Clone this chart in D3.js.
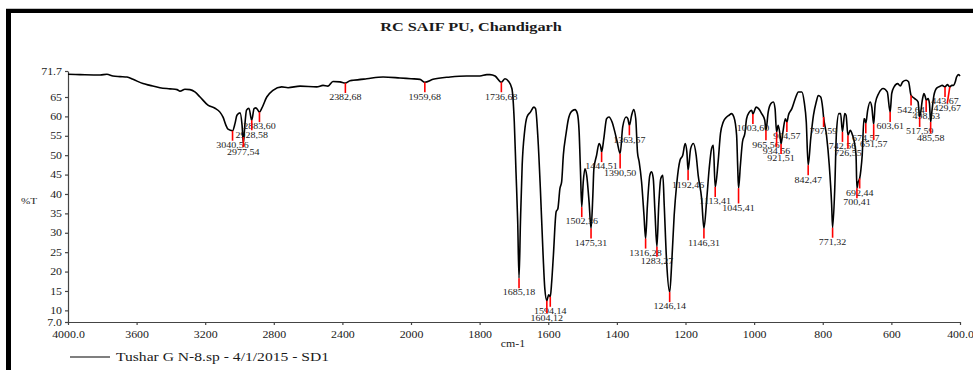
<!DOCTYPE html>
<html><head><meta charset="utf-8">
<script src="https://cdn.jsdelivr.net/npm/d3@7"></script>
<style>
body{margin:0;background:#fff}
svg{display:block}
text{font-family:"Liberation Serif","Times New Roman",serif;fill:#1a1a1a}
</style>
</head><body>
<svg id="c" width="973" height="370"></svg>
<script>
const waveNumbers = [4000,3930,3813,3773,3738,3697,3656,3621,3563,3522,3464,3405,3364,3347,3318,3289,3260,3230,3184,3143,3114,3096,3079,3067,3040.6,3026,3015,2997,2985,2977.5,2969,2959,2945,2928.6,2915,2904,2883.6,2869,2841,2805,2754,2717,2647,2550,2513,2484,2455,2414,2382.7,2356,2338,2258,2163,2064,2000,1974,1959.7,1936,1886,1838,1799,1779,1770,1755,1736.7,1726,1716,1706,1699,1694,1689,1685.2,1681,1676,1669,1662,1652,1642,1637,1630,1623,1615,1610,1604.1,1599,1594.1,1590,1585,1577,1572,1566,1561,1556,1548,1542,1532,1522,1515,1510,1506,1502.4,1498,1493,1488,1481,1475.3,1470,1467,1459,1452,1447,1444.5,1438,1430,1423,1414,1406,1399,1390.5,1383,1373,1368,1363.6,1357,1351,1345,1340,1335,1328,1321,1316.3,1311,1304,1299,1294,1289,1283.3,1278,1272,1266,1262,1255,1246.1,1240,1233,1226,1216,1208,1201,1196,1192.5,1185,1177,1169,1163,1153,1146.3,1138,1131,1124,1119,1113.4,1105,1098,1090,1080,1073,1066,1059,1051,1048,1045.4,1040,1034,1027,1022,1014,1007,1003.6,994,987,978,969,965.6,959,951,944,939,934.6,930,925,921.5,916,909,904.6,900,890,880,871,861,854,848,842.5,835,827,819,813,806,800,797.6,789,781,774,771.3,765,760,753,748,742.6,736,732,726.6,720,713,708,703,700.4,697,692.4,689,685,680,678,674.6,669,662,657,651.6,647,637,624,612,603.6,599,592,582,574,567,557,550,542.6,532,522,521,517.6,509,505,501,498.6,493,489,485.6,481,476,468,458,452,443.7,437,429.7,424,419,414,410,404,400];
const transmittance = [70.85,70.77,70.67,70.85,70.41,70.26,70.15,69.56,68.45,68.0,67.4,67.1,66.9,66.5,67.0,66.9,66.3,65.0,62.9,62.1,61.1,59.8,57.7,56.7,56.3,58.2,60.3,60.9,57.7,53.1,57.7,61.6,62.1,59.0,62.0,62.2,61.1,62.2,65.0,66.7,67.6,67.4,67.8,67.6,68.0,67.8,69.0,68.9,68.6,69.2,69.3,69.7,70.15,69.9,69.7,69.55,68.8,69.55,70.15,70.4,70.4,70.77,70.77,70.4,68.8,69.7,69.05,67.2,58.6,45.7,32.8,18.3,32.8,47.4,56.0,59.85,61.1,62.4,62.0,54.3,41.4,24.2,15.6,12.5,14.0,13.5,17.3,24.2,35.4,36.2,41.4,43.1,50.0,55.6,59.0,61.3,61.75,60.7,56.0,45.7,36.6,43.1,46.5,44.8,37.9,31.1,39.7,46.5,50.0,53.0,52.1,50.8,54.3,59.4,59.85,58.55,56.0,53.4,50.4,57.3,59.85,59.4,57.7,60.3,61.75,59.4,50.8,48.25,43.1,34.5,28.5,37.1,44.8,45.7,44.0,35.4,26.4,37.1,44.0,44.8,37.1,22.5,14.7,22.5,34.5,42.25,48.7,50.0,53.0,50.8,46.1,51.7,53.0,50.0,44.8,38.8,31.1,38.8,46.5,51.7,52.55,41.8,48.2,55.6,58.55,59.85,60.3,60.7,59.85,55.1,47.4,41.5,47.4,53.4,55.6,59.4,61.1,61.6,60.6,62.4,62.0,60.7,59.0,56.4,61.1,63.3,63.7,62.0,56.0,57.7,55.6,52.9,56.0,59.4,58.55,60.3,62.0,64.6,66.3,66.3,63.7,58.55,47.4,54.3,60.3,63.7,65.4,65.0,62.0,59.85,55.1,47.4,37.1,31.3,41.4,56.0,60.7,60.7,56.0,60.7,60.3,55.1,56.4,55.1,53.4,50.0,41.5,43.0,44.0,46.1,50.0,59.4,59.4,58.2,61.6,63.7,62.4,58.0,63.3,65.9,67.2,66.3,61.1,65.9,67.6,68.45,67.85,68.9,69.3,68.9,65.4,64.6,63.7,62.8,59.85,64.6,65.9,65.0,64.15,64.6,63.3,58.55,62.0,65.4,67.3,67.75,68.0,67.6,68.2,67.6,68.0,68.0,68.85,70.15,70.77,70.4];

const peakWaveNumbers = [3040.56,2977.54,2928.58,2883.60,2382.68,1959.68,1736.68,1685.18,1604.12,1594.14,1502.36,1475.31,1444.51,1390.50,1363.57,1316.28,1283.27,1246.14,1192.46,1146.31,1113.41,1045.41,1003.60,965.56,934.56,921.51,904.57,842.47,797.59,771.32,742.56,726.55,700.41,692.44,674.57,651.57,603.61,542.64,517.59,498.63,485.58,443.67,429.67];
const peakTransmittance = [56.3,54.7,59.0,61.1,68.6,68.8,68.8,18.3,12.5,13.5,36.6,31.1,50.8,50.4,57.7,28.5,26.4,14.7,46.1,31.1,41.8,41.5,60.6,56.4,56.0,52.9,58.55,47.4,59.85,31.3,56.0,55.1,41.5,44.0,58.2,58.0,61.1,65.4,59.85,64.15,58.55,67.6,67.6];
const peakLabels = ["3040,56","2977,54","2928,58","2883,60","2382,68","1959,68","1736,68","1685,18","1604,12","1594,14","1502,36","1475,31","1444,51","1390,50","1363,57","1316,28","1283,27","1246,14","1192,46","1146,31","1113,41","1045,41","1003,60","965,56","934,56","921,51","904,57","842,47","797,59","771,32","742,56","726,55","700,41","692,44","674,57","651,57","603,61","542,64","517,59","498,63","485,58","443,67","429,67"];

const xTicks = [4000,3600,3200,2800,2400,2000,1800,1600,1400,1200,1000,800,600,400];
const xTickLabels = ["4000.0","3600","3200","2800","2400","2000","1800","1600","1400","1200","1000","800","600","400.0"];
const yTicks = [71.7,65,60,55,50,45,40,35,30,25,20,15,10,7.0];
const yTickLabels = ["71.7","65","60","55","50","45","40","35","30","25","20","15","10","7.0"];

const chartTitle = "RC SAIF PU, Chandigarh";
const xTitle = "cm-1";
const yTitle = "%T";
const legendLabel = "Tushar G N-8.sp - 4/1/2015 - SD1";

const svg = d3.select("#c");
const W = 973, H = 370;
svg.append("rect").attr("width", W).attr("height", H).attr("fill", "#fff");

// frame
svg.append("rect").attr("x", 6).attr("y", 8.5).attr("width", W - 6).attr("height", 1).attr("fill", "#888");
svg.append("rect").attr("x", 6).attr("y", 9).attr("width", W - 6).attr("height", 4).attr("fill", "#000");
svg.append("rect").attr("x", 6).attr("y", 9).attr("width", 5).attr("height", H - 9).attr("fill", "#000");

const x = d3.scaleLinear().domain([4000, 2000, 400]).range([68, 411, 960]);
const y = d3.scaleLinear().domain([7.0, 71.7]).range([322, 71]);

const S = 1.25;
function stretch(sel, s) {
  sel.each(function () {
    const t = d3.select(this);
    const x0 = +(t.attr("x") || 0);
    t.attr("x", x0 / s);
    const tr = t.attr("transform") || "";
    t.attr("transform", (tr + " scale(" + s + ",1)").trim());
  });
}

// axes
const gx = svg.append("g").attr("transform", "translate(0,322)")
  .call(d3.axisBottom(x).tickValues(xTicks).tickFormat((d, i) => xTickLabels[i]).tickSize(3).tickSizeOuter(0).tickPadding(6));
const gy = svg.append("g").attr("transform", "translate(68,0)")
  .call(d3.axisLeft(y).tickValues(yTicks).tickFormat((d, i) => yTickLabels[i]).tickSize(3).tickSizeOuter(0).tickPadding(3));
[gx, gy].forEach(g => {
  g.select(".domain").attr("stroke", "#444").attr("stroke-width", 1.2);
  g.selectAll(".tick line").attr("stroke", "#444").attr("stroke-width", 1.2);
  g.selectAll("text").attr("font-family", '"Liberation Serif",serif').attr("font-size", 9.5).attr("fill", "#1a1a1a");
  stretch(g.selectAll("text"), S);
});

// spectrum
const data = waveNumbers.map((w, i) => ({ w: w, t: transmittance[i] }));
svg.append("path").datum(data)
  .attr("fill", "none").attr("stroke", "#000").attr("stroke-width", 1.6).attr("stroke-linejoin", "round")
  .attr("d", d3.line().x(d => x(d.w)).y(d => y(d.t)).curve(d3.curveMonotoneX));

// peak markers and labels
const gp = svg.append("g");
const n = peakWaveNumbers.length;
const order = d3.range(n).sort((a, b) => (peakTransmittance[b] - peakTransmittance[a]) || (peakWaveNumbers[b] - peakWaveNumbers[a]));
const placed = [];
const LS = 1.25, FS = 8;
order.forEach(i => {
  const px = x(peakWaveNumbers[i]), py = y(peakTransmittance[i]);
  const g = gp.append("g");
  const line = g.append("line");
  const txt = g.append("text").attr("font-size", FS).attr("text-anchor", "middle").attr("dy", "0.35em").attr("fill", "#222").text(peakLabels[i]);
  const w = txt.node().getComputedTextLength() * LS;
  let lx = Math.min(px, 961 - w / 2);
  let ly = py + 14.5;
  for (let k = 0; k < 20; k++) {
    const c = placed.find(p => Math.abs(p.lx - lx) < (p.w + w) / 2 && Math.abs(p.ly - ly) < 6.5);
    if (!c) break;
    ly = c.ly + 6.5;
  }
  placed.push({ lx: lx, ly: ly, w: w });
  line.attr("x1", px).attr("y1", py).attr("x2", lx).attr("y2", ly - 4.5).attr("stroke", "#ff0000").attr("stroke-width", 1.6);
  txt.attr("transform", "translate(" + lx + "," + ly + ") scale(" + LS + ",1)");
});

// titles
function label(str, tx, ty, size, anchor, weight) {
  return svg.append("text").attr("transform", "translate(" + tx + "," + ty + ") scale(" + S + ",1)")
    .attr("font-size", size).attr("text-anchor", anchor).attr("font-weight", weight || "normal").text(str);
}
label(chartTitle, 471, 31, 13, "middle", "bold").attr("fill", "#000");
label(xTitle, 513, 347, 9.5, "middle");
label(yTitle, 29, 204, 9, "middle");

// legend
svg.append("line").attr("x1", 70).attr("x2", 110).attr("y1", 357).attr("y2", 357).attr("stroke", "#000").attr("stroke-width", 1.2);
label(legendLabel, 116, 361, 12.5, "start");
</script>
</body></html>
